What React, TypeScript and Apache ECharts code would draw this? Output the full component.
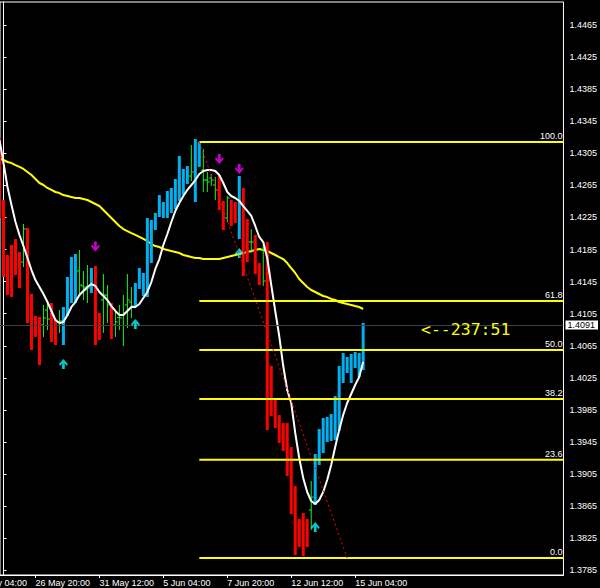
import React, { useEffect, useRef } from "react";
import * as echarts from "echarts";

// ---------- data ----------
// time labels and the bar number (4-hour bar index, 0 = first full bar on screen) they mark
const tickLabels = ["24 May 04:00", "26 May 20:00", "31 May 12:00", "5 Jun 04:00", "7 Jun 20:00", "12 Jun 12:00", "15 Jun 04:00"];
const tickBars = [-8, 8, 24, 40, 56, 72, 88];
const X_MIN = -0.875;
const X_MAX = 140.125;
const FIRST_BAR = -1;

const priceTicks = [1.3785, 1.3825, 1.3865, 1.3905, 1.3945, 1.3985, 1.4025, 1.4065, 1.4105, 1.4145, 1.4185, 1.4225, 1.4265, 1.4305, 1.4345, 1.4385, 1.4425, 1.4465];
const Y_MIN = 1.37792;
const Y_MAX = 1.44937;

// r = bearish HA body, b = bullish HA body, g = plain price bar
const barKind = ("rrrrrrgrrr" + "rggrrgbbbb" + "gggbrrggrg" + "ggggbbbbbb" + "bbbbbbbbgb" + "bggggrrgrr" + "brrgrrgrrr" + "rrrrrrrrgb" + "bbbbbbbbbbbb").split("");

const barTop = [
  1.43241, 1.42468, 1.41782, 1.41907, 1.41982, 1.4182, 1.42169, 1.42119, 1.41296, 1.41022,
  1.41009, 1.41159, 1.41196, 1.41184, 1.40984, 1.41096, 1.41134, 1.41508, 1.41757, 1.41795,
  1.41845, 1.41583, 1.41657, 1.4162, 1.41645, 1.41059, 1.41545, 1.41408, 1.41184, 1.41096,
  1.41159, 1.41283, 1.41545, 1.41383, 1.41433, 1.4162, 1.41558, 1.42244, 1.42219, 1.42306,
  1.4253, 1.42443, 1.4258, 1.42618, 1.4273, 1.43017, 1.42855, 1.42892, 1.43154, 1.43229,
  1.43191, 1.43104, 1.42817, 1.42792, 1.42755, 1.4278, 1.42456, 1.42518, 1.42468, 1.42443,
  1.42767, 1.42618, 1.42231, 1.42106, 1.42032, 1.41682, 1.41907, 1.41944, 1.40398, 1.39974,
  1.39787, 1.39687, 1.39687, 1.39388, 1.38902, 1.3849, 1.38565, 1.3849, 1.38964, 1.39301,
  1.39612, 1.3975, 1.39762, 1.39799, 1.40024, 1.40398, 1.4056, 1.4051, 1.40548, 1.40573,
  1.4056, 1.40934,
];
const barBottom = [
  1.42244, 1.41508, 1.41283, 1.41258, 1.41533, 1.41371, 1.41632, 1.40934, 1.40598, 1.4076,
  1.4041, 1.4076, 1.40847, 1.40697, 1.4066, 1.4081, 1.4066, 1.41022, 1.41184, 1.41184,
  1.41271, 1.41221, 1.41184, 1.41308, 1.4066, 1.40722, 1.4081, 1.40934, 1.40735, 1.4076,
  1.40847, 1.40647, 1.40872, 1.40997, 1.41134, 1.41358, 1.41271, 1.41258, 1.41682, 1.42094,
  1.42256, 1.42244, 1.42244, 1.42306, 1.42356, 1.42456, 1.4253, 1.42668, 1.42705, 1.42443,
  1.4288, 1.42568, 1.42568, 1.42643, 1.42468, 1.42343, 1.42094, 1.42194, 1.42144, 1.42181,
  1.41982, 1.4152, 1.41695, 1.41807, 1.41545, 1.41408, 1.41396, 1.396, 1.39775, 1.39625,
  1.39438, 1.39338, 1.39026, 1.38552, 1.38041, 1.38141, 1.38029, 1.38141, 1.38353, 1.38665,
  1.39163, 1.39313, 1.3945, 1.39463, 1.39475, 1.39587, 1.40186, 1.40311, 1.40186, 1.40373,
  1.40261, 1.40348,
];
// plain price bars: [bar number, open, close]
const plainOpenClose: [number, number, number][] = [
  [5, 1.41695, 1.42106], [10, 1.40909, 1.40997], [11, 1.41096, 1.40984], [14, 1.40947, 1.4096],
  [19, 1.41583, 1.41408], [20, 1.41396, 1.41383], [21, 1.41346, 1.41371], [25, 1.41221, 1.41283],
  [26, 1.41283, 1.41159], [28, 1.40909, 1.40947], [29, 1.41003, 1.40997], [30, 1.41034, 1.41059],
  [31, 1.41159, 1.41221], [32, 1.41196, 1.41146], [47, 1.42767, 1.42817], [50, 1.42842, 1.42717],
  [51, 1.42717, 1.42693], [52, 1.42742, 1.42717], [53, 1.42655, 1.42593], [56, 1.42244, 1.42493],
  [62, 1.41944, 1.41944], [65, 1.41845, 1.41458], [77, 1.38602, 1.38764],
];

const whiteMA = [
  1.43216, 1.42929, 1.4263, 1.42406, 1.42194, 1.42032, 1.41894, 1.41745, 1.41595, 1.4147,
  1.41383, 1.41296, 1.41196, 1.41084, 1.40972, 1.40934, 1.40947, 1.41034, 1.41134, 1.41196,
  1.41283, 1.41333, 1.41383, 1.4142, 1.41396, 1.41321, 1.41271, 1.41221, 1.41146, 1.41084,
  1.41034, 1.41034, 1.41084, 1.41134, 1.41134, 1.41171, 1.41246, 1.41321, 1.41445, 1.41608,
  1.41732, 1.41907, 1.42044, 1.42194, 1.42331, 1.42431, 1.42518, 1.42593, 1.42655, 1.42717,
  1.42792, 1.4283, 1.42842, 1.42842, 1.4283, 1.4278, 1.4268, 1.42568, 1.42518, 1.42493,
  1.42456, 1.42393, 1.42331, 1.42269, 1.42144, 1.42007, 1.41944, 1.41745, 1.41408, 1.41084,
  1.40772, 1.40398, 1.40099, 1.39937, 1.39563, 1.39251, 1.39001, 1.38827, 1.38715, 1.38677,
  1.38727, 1.38827, 1.38976, 1.39163, 1.39388, 1.396, 1.39787, 1.39937, 1.40049, 1.40161,
  1.40261, 1.40448,
];
const yellowMA = [
  1.42979, 1.42967, 1.42942, 1.42929, 1.42904, 1.4288, 1.42855, 1.42817, 1.4278, 1.4273,
  1.4268, 1.42655, 1.42618, 1.42593, 1.42568, 1.42555, 1.4253, 1.42518, 1.42505, 1.42493,
  1.42493, 1.4248, 1.42468, 1.42443, 1.42418, 1.42393, 1.42343, 1.42293, 1.42244, 1.42194,
  1.42144, 1.42106, 1.42081, 1.42056, 1.42032, 1.42007, 1.41982, 1.41957, 1.41919, 1.41894,
  1.41882, 1.41857, 1.41845, 1.41832, 1.4182, 1.41807, 1.41782, 1.4177, 1.41757, 1.41745,
  1.41745, 1.41732, 1.41732, 1.41732, 1.41732, 1.41732, 1.41745, 1.41757, 1.4177, 1.41782,
  1.41795, 1.41807, 1.4182, 1.41832, 1.41845, 1.41857, 1.41845, 1.41832, 1.41807, 1.41782,
  1.41757, 1.41732, 1.41682, 1.4162, 1.41558, 1.41483, 1.41433, 1.41383, 1.41346, 1.41321,
  1.41296, 1.41271, 1.41258, 1.41234, 1.41221, 1.41196, 1.41184, 1.41171, 1.41159, 1.41146,
  1.41134, 1.41109,
];

// signal arrows: [bar number, price]
const downArrows = [[23, 1.41888], [54, 1.42979], [59, 1.42855]];
const upArrows = [[15, 1.40423], [33, 1.40922], [59, 1.41807], [78, 1.3839]];

// Fibonacci retracement anchors
const fibHighBar = 49;
const fibHighPrice = 1.43191;
const fibLowBar = 86;
const fibLowPrice = 1.38004;
const fibLevels = [0, 23.6, 38.2, 50, 61.8, 100];

const bidPrice = 1.4091;
const timerText = "<--237:51";

// ---------- styling ----------
const FONT = "'Liberation Sans', Arial, sans-serif";
const RED = "#ff0000";
const BLUE = "#00b0f0";
const GREEN = "#22f022";
const DOWN_ARROW = "path://M3,0L6,0L6,5.2L8.2,3L9.6,4.4L4.5,9.5L-0.6,4.4L0.8,3L3,5.2Z";
const UP_ARROW = "path://M3,9.5L6,9.5L6,4.3L8.2,6.5L9.6,5.1L4.5,0L-0.6,5.1L0.8,6.5L3,4.3Z";

function labelFor(v: number) {
  const i = tickBars.indexOf(Math.round(v));
  return i >= 0 ? tickLabels[i] : "";
}

function buildOption() {
  const ocMap: Record<number, [number, number]> = {};
  plainOpenClose.forEach(([n, o, c]) => (ocMap[n] = [o, c]));

  const barData = barKind.map((kd, j) => {
    const k = FIRST_BAR + j;
    const oc = ocMap[k] || [0, 0];
    return [k, barTop[j], barBottom[j], kd === "r" ? 0 : kd === "b" ? 1 : 2, oc[0], oc[1]];
  });
  const whiteData = whiteMA.map((v, j) => [FIRST_BAR + j, v]);
  const yellowData = yellowMA.map((v, j) => [FIRST_BAR + j, v]);
  const fibData = fibLevels.map((r) => [fibHighBar, fibLowPrice + (r / 100) * (fibHighPrice - fibLowPrice), r]);
  const visibleTicks = tickBars.filter((b) => b >= X_MIN);

  return {
    animation: false,
    backgroundColor: "#000",
    grid: { left: 0, right: 36, top: 2, bottom: 13, show: true, borderColor: "#fff", borderWidth: 1, backgroundColor: "#000" },
    xAxis: {
      type: "value",
      min: X_MIN,
      max: X_MAX,
      axisLine: { show: true, onZero: false, lineStyle: { color: "#fff", width: 1 } },
      axisTick: { show: true, length: 3, customValues: visibleTicks, lineStyle: { color: "#fff" } },
      axisLabel: {
        show: true,
        customValues: visibleTicks,
        formatter: (v: number) => labelFor(v),
        color: "#fff",
        fontSize: 9,
        fontFamily: FONT,
        align: "left",
        margin: 3,
      },
      splitLine: { show: false },
    },
    yAxis: {
      type: "value",
      position: "right",
      min: Y_MIN,
      max: Y_MAX,
      axisLine: { show: true, lineStyle: { color: "#fff", width: 1 } },
      axisTick: { show: true, length: 3, customValues: priceTicks, lineStyle: { color: "#fff" } },
      axisLabel: {
        show: true,
        customValues: priceTicks,
        formatter: (v: number) => v.toFixed(4),
        color: "#fff",
        fontSize: 9,
        fontFamily: FONT,
        margin: 6,
      },
      splitLine: { show: false },
    },
    series: [
      {
        type: "line",
        data: yellowData,
        z: 2,
        showSymbol: false,
        symbol: "none",
        lineStyle: { color: "#ffff00", width: 2 },
        markLine: {
          silent: true,
          precision: 5,
          symbol: ["none", "none"],
          data: [{ yAxis: bidPrice }],
          lineStyle: { color: "#3a3f48", width: 1, type: "solid" },
          label: {
            show: true,
            position: "end",
            distance: 2,
            formatter: bidPrice.toFixed(4),
            backgroundColor: "#fff",
            color: "#000",
            fontSize: 9,
            lineHeight: 9,
            fontFamily: FONT,
            padding: [0, 3, 0, 2],
          },
        },
      },
      {
        type: "custom",
        z: 3,
        data: barData,
        encode: { x: 0, y: [1, 2] },
        renderItem: (_p: any, api: any) => {
          const k = api.value(0);
          const kind = api.value(3);
          const p1 = api.coord([k, api.value(1)]);
          const p2 = api.coord([k, api.value(2)]);
          if (kind === 2) {
            const o = api.coord([k, api.value(4)]);
            const c = api.coord([k, api.value(5)]);
            const st = { stroke: GREEN, lineWidth: 1 };
            return {
              type: "group",
              children: [
                { type: "line", shape: { x1: p1[0], y1: p1[1], x2: p2[0], y2: p2[1] }, style: st },
                { type: "line", shape: { x1: o[0] - 2.5, y1: o[1], x2: o[0], y2: o[1] }, style: st },
                { type: "line", shape: { x1: c[0], y1: c[1], x2: c[0] + 2.5, y2: c[1] }, style: st },
              ],
            };
          }
          return {
            type: "rect",
            shape: { x: p1[0] - 1.5, y: p1[1], width: 3, height: p2[1] - p1[1] },
            style: { fill: kind === 0 ? RED : BLUE },
          };
        },
      },
      {
        type: "line",
        data: whiteData,
        z: 4,
        showSymbol: false,
        symbol: "none",
        lineStyle: { color: "#ffffff", width: 2 },
      },
      {
        type: "scatter",
        z: 5,
        data: downArrows,
        symbol: DOWN_ARROW,
        symbolSize: [9, 10],
        itemStyle: { color: "#ff00ff" },
      },
      {
        type: "scatter",
        z: 5,
        data: upArrows,
        symbol: UP_ARROW,
        symbolSize: [9, 10],
        itemStyle: { color: "#00ffff" },
      },
      {
        type: "line",
        z: 6,
        data: [[fibHighBar, fibHighPrice], [fibLowBar, fibLowPrice]],
        showSymbol: false,
        symbol: "none",
        lineStyle: { color: RED, width: 1, type: [2, 3] },
      },
      {
        type: "custom",
        z: 6,
        data: fibData,
        encode: { x: 0, y: 1 },
        renderItem: (_p: any, api: any) => {
          const a = api.coord([api.value(0), api.value(1)]);
          const b = api.coord([X_MAX, api.value(1)]);
          return {
            type: "group",
            children: [
              { type: "line", shape: { x1: a[0], y1: a[1], x2: b[0], y2: b[1] }, style: { stroke: "#ffff00", lineWidth: 2 } },
              {
                type: "text",
                x: b[0] - 1,
                y: b[1] - 1.5,
                style: { text: Number(api.value(2)).toFixed(1), fill: "#fff", font: `9px ${FONT}`, align: "right", verticalAlign: "bottom" },
              },
            ],
          };
        },
      },
    ],
  };
}

export default function App() {
  const ref = useRef<HTMLDivElement>(null);
  useEffect(() => {
    document.body.style.margin = "0";
    document.body.style.background = "#000";
    document.body.style.overflow = "hidden";
    const chart = echarts.init(ref.current!, null, { renderer: "svg" });
    chart.setOption(buildOption() as any);
    // time label of the bar just left of the view: place it with the axis scale
    const hidden = tickBars.filter((b) => b < X_MIN);
    const bidY = chart.convertToPixel({ yAxisIndex: 0 }, bidPrice) as number;
    const axisY = chart.convertToPixel({ yAxisIndex: 0 }, Y_MIN) as number;
    chart.setOption({
      graphic: [
        {
          type: "text",
          x: 421,
          y: bidY - 4,
          z: 100,
          style: { text: timerText, fill: "#ffff00", font: "16.5px 'DejaVu Sans Mono', monospace" },
        },
        ...hidden.map((b) => ({
          type: "text",
          x: (chart.convertToPixel({ xAxisIndex: 0 }, b) as number) + 1,
          y: axisY + 3,
          z: 100,
          style: { text: labelFor(b), fill: "#fff", font: `9px ${FONT}`, verticalAlign: "top" },
        })),
      ],
    });
    return () => chart.dispose();
  }, []);
  return <div ref={ref} style={{ width: 600, height: 588 }} />;
}
